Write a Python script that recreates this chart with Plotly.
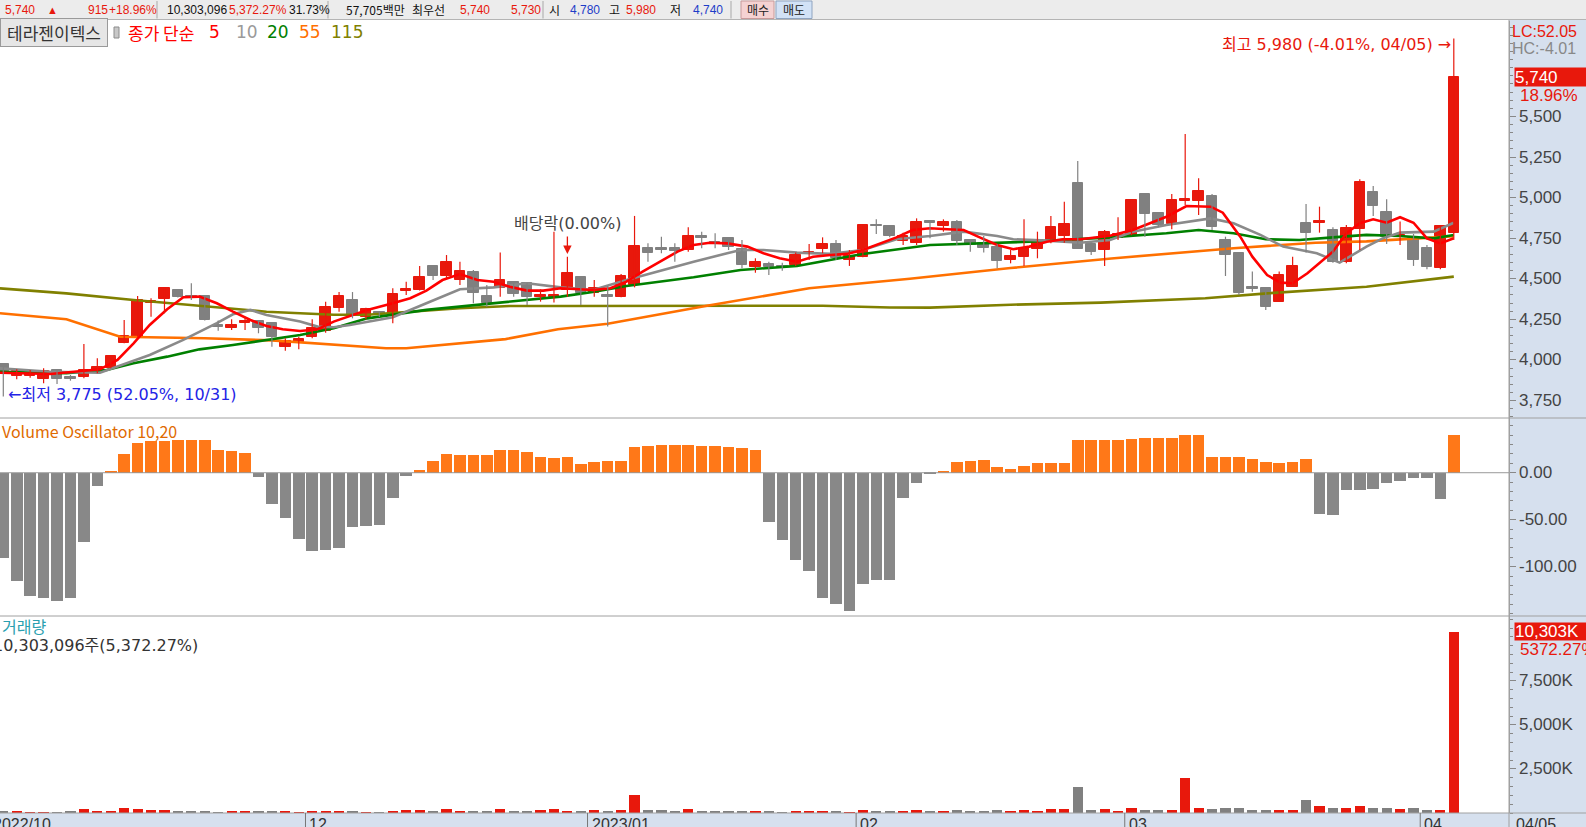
import plotly.graph_objects as go

W, H = 1586, 827

# ---------------- data ----------------
stock_name = "테라젠이텍스"
opens = [3973,3901,3901,3882,3938,3893,3897,3938,3952,4106,
         4143,4353,4373,4431,4394,4394,4215,4199,4226,4242,
         4226,4078,4112,4143,4178,4318,4369,4266,4295,4277,
         4425,4431,4579,4517,4492,4544,4394,4441,4482,4472,
         4388,4390,4431,4513,4410,4398,4389,4461,4688,4688,
         4688,4677,4763,4728,4749,4682,4571,4591,4580,4585,
         4653,4683,4714,4616,4636,4832,4825,4735,4718,4854,
         4825,4852,4739,4718,4694,4616,4636,4682,4735,4763,
         5092,4714,4677,4749,4770,5022,4907,4836,4978,4981,
         5010,4739,4661,4451,4445,4359,4451,4845,4846,4800,
         4605,4807,5033,4910,4756,4749,4688,4568,4780]
highs = [3975,3942,3938,3948,3940,3907,4098,4010,4030,4246,
         4394,4380,4446,4437,4472,4397,4242,4250,4266,4245,
         4229,4133,4143,4250,4359,4418,4418,4322,4300,4441,
         4482,4579,4582,4646,4605,4554,4461,4661,4485,4475,
         4435,4790,4636,4516,4492,4455,4529,4887,4718,4759,
         4718,4817,4790,4780,4752,4739,4626,4605,4599,4661,
         4714,4755,4739,4677,4833,4866,4831,4784,4872,4856,
         4866,4862,4742,4763,4714,4677,4866,4790,4887,4975,
         5225,4718,4800,4879,4990,5025,4910,5022,5392,5119,
         5022,4759,4664,4544,4447,4544,4636,4961,4944,4817,
         4831,5113,5072,4990,4852,4776,4708,4830,5980]
lows = [3775,3881,3890,3856,3852,3872,3887,3918,3948,4102,
        4143,4266,4287,4384,4369,4243,4180,4184,4184,4164,
        4081,4057,4065,4133,4168,4297,4256,4250,4265,4226,
        4400,4427,4492,4503,4461,4349,4328,4389,4389,4338,
        4359,4353,4389,4338,4389,4205,4386,4447,4605,4657,
        4605,4667,4688,4688,4677,4564,4537,4523,4550,4579,
        4616,4657,4616,4579,4632,4776,4755,4708,4708,4749,
        4790,4708,4667,4661,4564,4595,4579,4626,4718,4722,
        4683,4646,4579,4739,4768,4759,4817,4805,4954,4893,
        4800,4517,4400,4420,4308,4357,4449,4661,4784,4599,
        4595,4677,4887,4714,4708,4579,4558,4558,4740]
closes = [3927,3932,3918,3932,3881,3881,3938,3958,4024,4147,
          4369,4363,4441,4390,4380,4246,4201,4215,4242,4199,
          4139,4117,4129,4199,4328,4394,4277,4312,4280,4406,
          4437,4509,4517,4603,4548,4414,4353,4492,4406,4390,
          4400,4400,4537,4410,4441,4390,4517,4702,4657,4677,
          4673,4763,4749,4718,4698,4585,4605,4574,4570,4646,
          4663,4714,4626,4640,4831,4822,4763,4763,4852,4842,
          4852,4735,4708,4691,4611,4640,4688,4739,4817,4837,
          4683,4667,4790,4776,4985,4897,4831,4985,4990,5041,
          4817,4646,4410,4439,4328,4523,4579,4784,4858,4605,
          4811,5098,4950,4759,4768,4616,4571,4825,5740]
volumes = [90000,90000,40000,40000,40000,90000,200000,90000,90000,260000,
           200000,150000,150000,90000,90000,90000,40000,90000,90000,90000,
           90000,90000,40000,90000,90000,90000,90000,40000,40000,90000,
           150000,150000,90000,200000,90000,90000,90000,200000,90000,90000,
           150000,200000,90000,90000,150000,90000,150000,1030000,150000,150000,
           90000,200000,90000,90000,90000,90000,90000,90000,40000,90000,
           90000,90000,90000,40000,150000,90000,90000,90000,150000,90000,
           90000,150000,90000,90000,150000,90000,150000,90000,200000,200000,
           1450000,150000,200000,90000,310000,150000,150000,150000,2000000,260000,
           200000,310000,260000,150000,150000,150000,150000,750000,370000,310000,
           260000,420000,310000,310000,200000,260000,150000,188277,10303096]
vol_osc = [-91,-115,-131,-133,-136,-133,-74,-14,2,20,
           32,34,34,35,35,35,24,23,21,-5,
           -33,-48,-70,-83,-82,-80,-58,-57,-56,-27,
           -3,3,12,20,19,19,19,24,24,22,
           17,16,17,9,11,12,12,27,28,29,
           30,29,28,28,27,26,24,-52,-72,-93,
           -105,-133,-140,-147,-118,-114,-114,-27,-11,-1,
           2,11,13,14,6,4,7,10,10,10,
           35,35,35,35,36,37,37,37,40,40,
           17,17,17,15,11,10,11,15,-44,-45,
           -18,-18,-17,-11,-9,-6,-6,-28,40]

# moving-average lines (candle-index position, value)
ma5_x = [-0.25,3.5,7.2,8.5,9.7,10.9,12.2,13.4,14.6,15.9,17.1,18.4,19.6,20.8,22.1,23.4,24.6,25.8,27.1,
         29.0,30.3,31.5,32.7,34.0,35.3,36.5,37.7,39.0,40.2,41.5,42.7,43.9,45.2,46.4,47.6,48.9,50.2,51.4,52.6,53.9,
         55.4,56.6,57.8,59.1,60.3,61.6,62.8,64.0,65.3,66.5,67.7,69.0,70.3,71.5,72.7,74.0,75.2,76.4,77.7,78.9,80.2,81.4,
         82.4,84.1,86.6,88.1,89.9,90.8,92.1,93.0,94.1,95.1,96.0,97.1,98.0,99.0,100.0,101.0,102.0,103.0,104.0,105.0,106.0,107.0,108.0]
ma5_v = [3921,3913,3942,4000,4102,4215,4312,4386,4390,4349,4297,4246,4209,4189,4178,4189,4236,4271,4308,
         4349,4380,4427,4492,4529,4492,4482,4451,4427,4427,4441,4435,4431,4441,4482,4544,4605,4667,4708,4722,4718,
         4698,4657,4626,4605,4636,4646,4653,4677,4718,4755,4800,4811,4805,4800,4755,4708,4682,4698,4728,4743,4743,4755,
         4765,4800,4882,4948,4944,4907,4759,4636,4523,4476,4472,4534,4595,4667,4780,4842,4866,4845,4879,4845,4749,4718,4749]
ma10_x = [-0.25,3.5,7.2,8.5,10.9,13.4,15.9,17.1,18.4,19.6,22.1,23.4,24.6,25.8,27.1,29.0,31.5,34.0,36.5,39.0,41.5,
          43.9,46.4,48.9,51.4,53.9,54.9,56.6,59.1,61.6,64.0,66.5,69.0,71.5,74.0,75.2,77.7,80.2,82.4,84.1,86.6,89.9,
          91.6,93.6,95.3,97.8,99.5,101.5,102.7,104.0,106.5,108.0]
ma10_v = [3948,3927,3921,3958,4030,4123,4226,4281,4308,4277,4236,4205,4201,4215,4236,4263,4349,4435,4447,4472,4447,
          4431,4492,4550,4605,4657,4677,4677,4661,4653,4677,4743,4763,4790,4763,4743,4735,4722,4739,4790,4831,4872,
          4842,4770,4698,4657,4599,4698,4749,4784,4790,4845]
ma20_x = [-0.25,4.7,7.7,9.7,12.2,14.6,17.1,19.6,22.1,24.6,27.1,31.5,36.5,41.5,44.0,46.4,51.4,54.9,59.1,64.0,69.0,
          71.5,76.4,82.4,86.6,89.0,91.6,94.0,96.5,99.0,101.5,104.0,106.5,108.0]
ma20_v = [3927,3918,3938,3979,4020,4065,4092,4123,4153,4195,4256,4308,4349,4390,4420,4455,4509,4554,4579,4653,4708,
          4714,4728,4755,4780,4800,4780,4743,4739,4755,4770,4763,4749,4770]
ma55_x = [-0.25,4.7,8.7,15.0,20.0,25.0,28.5,30.0,37.4,41.3,45.0,52.5,60.0,67.5,75.0,82.5,91.6,97.7,101.5,105.0,108.0]
ma55_v = [4287,4250,4143,4133,4120,4090,4072,4072,4128,4189,4223,4335,4441,4500,4566,4625,4688,4722,4730,4747,4762]
ma115_x = [-0.25,4.7,9.7,14.6,19.6,24.6,27.1,34.0,37.7,42.0,55.0,61.0,66.0,69.0,75.0,81.7,89.5,94.1,101.5,108.0]
ma115_v = [4441,4410,4369,4334,4297,4278,4278,4318,4332,4332,4336,4334,4323,4322,4340,4353,4380,4410,4451,4513]

price_ticks = [3750, 4000, 4250, 4500, 4750, 5000, 5250, 5500]
osc_ticks = [0, -50, -100]
vol_ticks = [2500000, 5000000, 7500000]

month_labels = ["12", "2023/01", "02", "03", "04"]
month_start_idx = [23, 44, 64, 84, 106]
first_label = "2022/10"
last_date = "04/05"
low_date = "10/31"
prev_close = 4825
ex_div_idx = 42
vol_ratio_pct = 5372.27
top_bar = {"volume": "10,303,096", "turnover": "31.73%",
           "value": "57,705백만", "ask": "5,740", "bid": "5,730"}

# ---------------- styling / geometry ----------------
RED = "#e8180c"; GRAY = "#808080"; ORANGE_BAR = "#ff7818"
PANEL_BG = "#d6e0ee"; LINE = "#a0a0a0"
PLOT_R = 1509
PRICE_TOP, PRICE_BOT, OSC_BOT, VOL_BOT = 21, 418, 616, 813
NUMF = "Liberation Sans"; KRF = "Noto Sans CJK KR"; MIXF = "DejaVu Sans, Noto Sans CJK KR"

def px(x): return x / W
def py(y): return 1 - y / H

n = len(closes)
idx = list(range(n))
colors = [RED if c >= o else GRAY for o, c in zip(opens, closes)]

fig = go.Figure()

for xs, vs, col in [(ma115_x, ma115_v, "#808000"), (ma55_x, ma55_v, "#ff7000"),
                    (ma20_x, ma20_v, "#008000"), (ma10_x, ma10_v, "#8a8a8a"),
                    (ma5_x, ma5_v, "#ff0000")]:
    fig.add_trace(go.Scatter(x=xs, y=vs, mode="lines", line=dict(color=col, width=2.6),
                             hoverinfo="skip", xaxis="x", yaxis="y"))

for col in (GRAY, RED):
    wx, wy = [], []
    for i in idx:
        if colors[i] == col:
            wx += [i, i, None]
            wy += [lows[i], highs[i], None]
    fig.add_trace(go.Scatter(x=wx, y=wy, mode="lines", line=dict(color=col, width=1.2),
                             hoverinfo="skip", xaxis="x", yaxis="y"))

fig.add_trace(go.Bar(x=idx, y=[abs(c - o) for o, c in zip(opens, closes)],
                     base=[min(o, c) for o, c in zip(opens, closes)],
                     width=0.78, marker=dict(color=colors, line=dict(color=colors, width=1)),
                     hoverinfo="skip", xaxis="x", yaxis="y"))

fig.add_trace(go.Bar(x=idx, y=vol_osc, width=0.86,
                     marker=dict(color=[ORANGE_BAR if v >= 0 else "#888888" for v in vol_osc], line=dict(width=0)),
                     hoverinfo="skip", xaxis="x2", yaxis="y2"))

fig.add_trace(go.Bar(x=idx, y=volumes, width=0.76,
                     marker=dict(color=colors, line=dict(width=0)),
                     hoverinfo="skip", xaxis="x3", yaxis="y3"))

x_range = [-0.246, 112.11]
dom_x = [0, PLOT_R / W]
xcommon = dict(range=x_range, domain=dom_x, showgrid=False, zeroline=False,
               showticklabels=False, showline=False, ticks="", fixedrange=True)
ycommon = dict(side="right", showgrid=False, zeroline=False, showline=True, linecolor=LINE,
               ticks="outside", ticklen=6, tickcolor="#888", tickwidth=1, showticklabels=False,
               automargin=False, fixedrange=True)

fig.update_layout(
    width=W, height=H, margin=dict(l=0, r=0, t=0, b=0),
    paper_bgcolor="white", plot_bgcolor="white", showlegend=False, barmode="overlay", bargap=0,
    xaxis=dict(anchor="y", **xcommon),
    xaxis2=dict(anchor="y2", matches="x", **xcommon),
    xaxis3=dict(anchor="y3", matches="x", **xcommon),
    yaxis=dict(anchor="x", domain=[py(PRICE_BOT), py(PRICE_TOP)], range=[3642, 6088],
               tickvals=price_ticks,
               minor=dict(ticks="outside", ticklen=3, dtick=50, tickcolor="#888", showgrid=False),
               **ycommon),
    yaxis2=dict(anchor="x2", domain=[py(OSC_BOT), py(PRICE_BOT)], range=[-152.4, 58.2],
                tickvals=osc_ticks,
                minor=dict(ticks="outside", ticklen=3, dtick=10, tickcolor="#888", showgrid=False),
                **ycommon),
    yaxis3=dict(anchor="x3", domain=[py(VOL_BOT), py(OSC_BOT)], range=[0, 11.19e6],
                tickvals=vol_ticks,
                minor=dict(ticks="outside", ticklen=3, dtick=5e5, tickcolor="#888", showgrid=False),
                **ycommon),
)

shapes = []
def rect(x0, y0, x1, y1, fill, line=None, layer="below"):
    shapes.append(dict(type="rect", xref="paper", yref="paper", x0=px(x0), x1=px(x1),
                       y0=py(y1), y1=py(y0), fillcolor=fill,
                       line=dict(color=line or fill, width=1 if line else 0), layer=layer))
def hline(y, x0=0, x1=W, col=LINE):
    shapes.append(dict(type="line", xref="paper", yref="paper", x0=px(x0), x1=px(x1),
                       y0=py(y), y1=py(y), line=dict(color=col, width=1)))
def vline(x, y0, y1, col=LINE):
    shapes.append(dict(type="line", xref="paper", yref="paper", x0=px(x), x1=px(x),
                       y0=py(y0), y1=py(y1), line=dict(color=col, width=1)))

rect(0, 0, W, 19.5, "#ececec")
rect(PLOT_R, 20, W, H, PANEL_BG)
rect(0, VOL_BOT, W, H, PANEL_BG)
for xs in (157, 328, 543, 731):
    vline(xs, 1, 18.5, "#a8a8a8")
rect(741, 1, 774, 18.5, "#f5d2d2", "#c89a9a", layer="above")
rect(776, 1, 812, 18.5, "#d2e2f6", "#8fa4c0", layer="above")
hline(19.5, col="#b4b4b4")
hline(PRICE_BOT); hline(OSC_BOT); hline(VOL_BOT)
vline(PLOT_R, 20, H)
rect(114, 27, 119, 38, "#c8c8c8", "#8c8c8c", layer="above")
shapes.append(dict(type="line", xref="paper", yref="y2", x0=0, x1=px(PLOT_R), y0=0, y1=0,
                   line=dict(color="#999", width=1)))
for k in month_start_idx:
    shapes.append(dict(type="line", xref="x3", yref="paper", x0=k - 0.5, x1=k - 0.5,
                       y0=py(H), y1=py(VOL_BOT), line=dict(color="#777", width=1)))
fig.update_layout(shapes=shapes)

ann = []
def text(x, y, t, color="#333", size=12, family=NUMF, xanchor="left", yanchor="middle", **kw):
    d = dict(x=x, y=y, text=t, showarrow=False, xanchor=xanchor, yanchor=yanchor,
             font=dict(family=family, size=size, color=color))
    d.setdefault("xref", "paper"); d.setdefault("yref", "paper")
    d.update(kw)
    ann.append(d)

last = closes[-1]
chg = last - prev_close
ty = py(9.8)
text(px(3), ty, f"{last:,}", RED)
text(px(45), ty, "▲", RED, size=11)
text(px(86), ty, f"{chg:,}", RED)
text(px(107), ty, f"+{chg / prev_close * 100:.2f}%", RED)
text(px(165), ty, top_bar["volume"], "#111")
text(px(227), ty, f"{vol_ratio_pct:,.2f}%", RED)
text(px(287), ty, top_bar["turnover"], "#111")
text(px(344), ty, top_bar["value"], "#111", family=KRF)
text(px(410), ty, "최우선", "#111", family=KRF)
text(px(458), ty, top_bar["ask"], RED)
text(px(509), ty, top_bar["bid"], RED)
text(px(547), ty, "시", "#111", family=KRF)
text(px(568), ty, f"{opens[-1]:,}", "#1e3cc8")
text(px(607), ty, "고", "#111", family=KRF)
text(px(624), ty, f"{highs[-1]:,}", RED)
text(px(668), ty, "저", "#111", family=KRF)
text(px(691), ty, f"{lows[-1]:,}", "#1e3cc8")
text(px(757.5), ty, "매수", "#222", family=KRF, xanchor="center")
text(px(794), ty, "매도", "#222", family=KRF, xanchor="center")

# legend row
LY = py(32)
text(px(0), LY, stock_name, "#333", size=17, family=KRF, bgcolor="#e6e6e6",
     bordercolor="#9a9a9a", borderwidth=1, borderpad=1, width=104)
text(px(126), LY, "종가 단순", "#ff0000", size=17, family=KRF)
text(px(207), LY, "5", "#ff0000", size=17, family=MIXF)
text(px(234), LY, "10", "#9a9a9a", size=17, family=MIXF)
text(px(265), LY, "20", "#008000", size=17, family=MIXF)
text(px(297), LY, "55", "#ff7000", size=17, family=MIXF)
text(px(329), LY, "115", "#808000", size=17, family=MIXF)

# high / low / ex-dividend marks
hi = max(highs); hi_i = highs.index(hi)
lo = min(lows); lo_i = lows.index(lo)
text(hi_i, hi, f"최고 {hi:,} ({(last / hi - 1) * 100:.2f}%, {last_date}) →", RED, size=16,
     family=MIXF, xanchor="right", xref="x", yref="y", xshift=-1, yshift=-6)
text(lo_i, lo, f"←최저 {lo:,} ({(last / lo - 1) * 100:.2f}%, {low_date})", "#2323e6", size=16,
     family=MIXF, xanchor="left", xref="x", yref="y", xshift=3, yshift=2)
text(ex_div_idx, 4770, "배당락(0.00%)", "#444", size=16, family=MIXF, xanchor="center",
     yanchor="bottom", xref="x", yref="y")
ann.append(dict(x=ex_div_idx, y=4653, xref="x", yref="y", text="", showarrow=True,
                ax=0, ay=-19, arrowhead=2, arrowsize=1.3, arrowwidth=1.3, arrowcolor=RED))

# axis tick labels
TX = px(1517)
for v in price_ticks:
    text(TX, v, f"{v:,}", "#444", size=17, yref="y")
for v in osc_ticks:
    text(TX, v, f"{v:.2f}", "#444", size=17, yref="y2")
for v in vol_ticks:
    text(TX, v, f"{v // 1000:,}K", "#444", size=17, yref="y3")

# right panel labels
text(px(1510), py(31.5), f"LC:{(last / lo - 1) * 100:.2f}", RED, size=16)
text(px(1510), py(48.5), f"HC:{(last / hi - 1) * 100:.2f}", "#888", size=16)
text(px(1514), last, f"{last:,}", "white", size=17, yref="y", bgcolor=RED,
     width=72, height=18, align="left", borderpad=0)
text(px(1518), last, f"{chg / prev_close * 100:.2f}%", RED, size=17, yref="y", yshift=-18)
text(px(1514), volumes[-1], f"{volumes[-1] / 1000:,.0f}K", "white", size=17, yref="y3",
     bgcolor=RED, width=72, height=17, align="left", borderpad=0)
text(px(1518), volumes[-1], f"{vol_ratio_pct:.2f}%", RED, size=17, yref="y3", yshift=-18)

# panel titles
text(px(0), py(431), "Volume Oscillator 10,20", "#e06a00", size=16, family=KRF)
text(px(0), py(626), "거래량", "#2a9fb0", size=16, family=KRF)
text(px(-9), py(645), f"{volumes[-1]:,}주({vol_ratio_pct:,.2f}%)", "#333", size=16, family=MIXF)

# date strip labels
text(px(-9), py(814), first_label, "#333", size=16, yanchor="top")
for k, lab in zip(month_start_idx, month_labels):
    text(k - 0.5, py(814), lab, "#333", size=16, yanchor="top", xref="x3", xshift=2)
text(px(1514), py(814), last_date, "#333", size=16, yanchor="top")

fig.update_layout(annotations=ann)
fig.write_html("out.html")
